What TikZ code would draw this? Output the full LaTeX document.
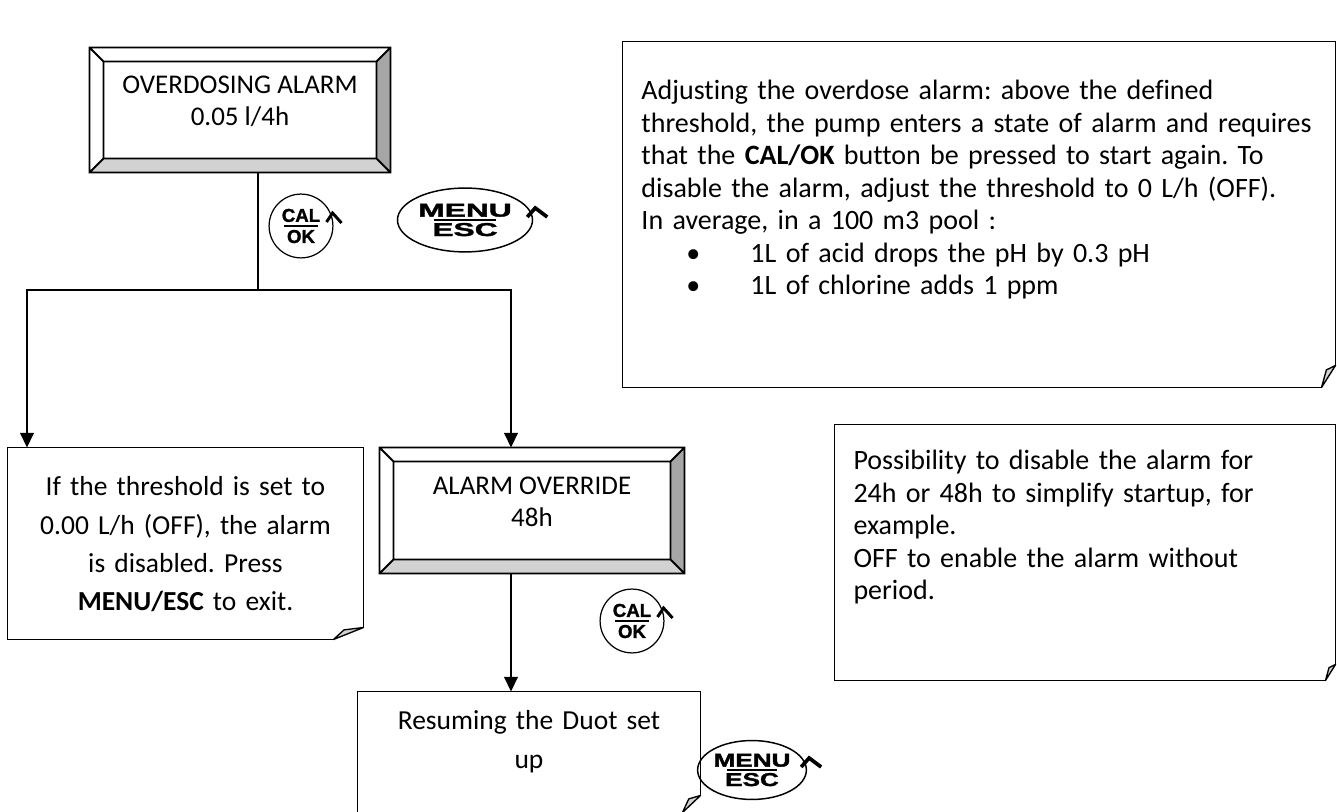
\documentclass[tikz,border=0pt]{standalone}
\usepackage{fontspec}
\setmainfont{Carlito}[Ligatures=NoCommon]
\newfontfamily\keyfont{Liberation Sans}[BoldFeatures={FakeBold=1.5}]
\usepackage{graphicx}
\usetikzlibrary{arrows.meta,calc,fit,shapes.geometric}
\frenchspacing

\tikzset{
  lcdbox/.style={inner sep=0pt, align=center, font=\fontsize{11}{13}\selectfont},
  notebox/.style={inner sep=0pt},
  note/.style={inner sep=0pt, align=left, font=\fontsize{11.4}{13.2}\selectfont},
  notec/.style={inner sep=0pt, align=center, font=\fontsize{11.2}{15.5}\selectfont},
  textline/.style={line width=0.55pt},
  flap/.style={line width=0.55pt, fill=gray!35, line join=round},
  bevelline/.style={line width=0.8pt},
  flow/.style={line width=0.8pt},
  flowarrow/.style={flow, -{Triangle[length=6pt,width=5.6pt]}},
  calkey/.style={circle, draw, line width=0.5pt, minimum size=26pt, inner sep=0pt,
    align=center, font=\keyfont\bfseries\fontsize{7.6}{8.6}\selectfont,
    path picture={\draw[line width=0.9pt]
      ([xshift=-7pt]path picture bounding box.center) --
      ([xshift=7pt]path picture bounding box.center);}},
  menukey/.style={ellipse, draw, line width=0.6pt, minimum width=55pt, minimum height=26pt,
    inner sep=0pt, align=center, font=\keyfont\bfseries\fontsize{7.6}{7.9}\selectfont,
    path picture={\draw[line width=1.2pt]
      ([xshift=-12.6pt]path picture bounding box.center) --
      ([xshift=12.6pt]path picture bounding box.center);}},
  smallmenukey/.style={menukey, minimum width=44pt, minimum height=24pt,
    path picture={\draw[line width=1.1pt]
      ([xshift=-10pt]path picture bounding box.center) --
      ([xshift=10pt]path picture bounding box.center);}},
  chev/.style={line width=1.2pt},
}

% display frame with bevelled border
\newcommand\bevelbox[2]{%
  \coordinate (#1-nw) at ($(#1.north west)+(#2,#2)$);
  \coordinate (#1-ne) at ($(#1.north east)+(-#2,#2)$);
  \coordinate (#1-se) at ($(#1.south east)+(-#2,-#2)$);
  \coordinate (#1-sw) at ($(#1.south west)+(#2,-#2)$);
  \fill[gray!35] (#1.south west) -- (#1.south east) -- (#1-se) -- (#1-sw) -- cycle;
  \fill[gray!70] (#1.south east) -- (#1.north east) -- (#1-ne) -- (#1-se) -- cycle;
  \draw[bevelline] (#1.south west) rectangle (#1.north east)
    (#1-sw) rectangle (#1-ne)
    (#1.north west) -- (#1-nw) (#1.north east) -- (#1-ne)
    (#1.south east) -- (#1-se) (#1.south west) -- (#1-sw);
}
% note frame with folded corner
\newcommand\foldframe[3]{%
  \draw[textline] ($(#1.south east)+(0,-#3)$) -- (#1.north east) -- (#1.north west)
    -- (#1.south west) -- ($(#1.south east)+(-#2,0)$);
  \draw[flap] ($(#1.south east)+(-#2,0)$) -- ($(#1.south east)+(-0.65*#2,-0.8*#3)$)
    -- ($(#1.south east)+(0,-#3)$) -- cycle;
}
\newcommand\calchev[1]{%
  \draw[chev] ($(#1.east)+(-7,-4)$) -- ($(#1.east)+(-1,-13)$) -- ($(#1.east)+(8,-3)$);}
\newcommand\menuchev[1]{%
  \draw[chev, line width=1.5pt] ($(#1.east)+(-6,-3)$) -- ($(#1.east)+(2,-12)$) -- ($(#1.east)+(14,-3)$);}

\begin{document}
\begin{tikzpicture}[x=0.4073pt,y=-0.4073pt]
\useasboundingbox (0,0) rectangle (1337,812);

% displays
\node (ovd) [lcdbox, fit={(90,48) (390,172)}] {OVERDOSING ALARM\\0.05 l/4h};
\bevelbox{ovd}{14}
\node (ovr) [lcdbox, fit={(380,448) (684,573)}] {ALARM OVERRIDE\\48h};
\bevelbox{ovr}{14}

% notes
\node (adj) [notebox, fit={(623,42) (1335,387)}] {};
\foldframe{adj}{14}{22}
\node (adjtext) [note, text width=290pt, anchor=base west] at (641,100)
  {Adjusting the overdose alarm: above the defined\\
   threshold, the pump enters a state of alarm and requires\\
   that the \textbf{CAL/OK} button be pressed to start again. To\\
   disable the alarm, adjust the threshold to 0 L/h (OFF).\\
   In average, in a 100 m3 pool :\\
   \hspace*{18.3pt}\makebox[26.1pt][l]{\textbullet}1L of acid drops the pH by 0.3 pH\\
   \hspace*{18.3pt}\makebox[26.1pt][l]{\textbullet}1L of chlorine adds 1 ppm};

\node (dis) [notebox, fit={(835,425) (1335,680)}] {};
\foldframe{dis}{10}{16}
\node (distext) [note, text width=220pt, anchor=base west] at (853,470)
  {Possibility to disable the alarm for\\
   24h or 48h to simplify startup, for\\
   example.\\
   OFF to enable the alarm without\\
   period.};

\node (thr) [notebox, fit={(8,448) (363,639)}] {};
\foldframe{thr}{30}{12}
\node (thrtext) [notec, text width=150pt, anchor=base] at (185.5,496)
  {If the threshold is set to\\0.00 L/h (OFF), the alarm\\is disabled. Press\\
   \textbf{MENU/ESC} to exit.};

\node (res) [notebox, fit={(358,692) (700,812)}] {};
\foldframe{res}{18}{17}
\node (restext) [notec, text width=130pt, anchor=base] at (529,730)
  {Resuming the Duot set\\up};

% keys
\node (calok1) [calkey] at (301,226) {CAL\\OK};
\calchev{calok1}
\node (menu1) [menukey] at (465,220) {\scalebox{1.7}[1]{MENU}\\\scalebox{1.7}[1]{ESC}};
\menuchev{menu1}
\node (calok2) [calkey] at (632,621) {CAL\\OK};
\calchev{calok2}
\node (menu2) [smallmenukey] at (752,770) {\scalebox{1.4}[1]{MENU}\\\scalebox{1.4}[1]{ESC}};
\menuchev{menu2}

% connectors
\coordinate (split) at (258,290);
\coordinate (lefttap) at (27,290);
\coordinate (righttap) at (511,290);
\draw[flow] (ovd.south -| split) -- (split);
\draw[flowarrow] (split) -- (lefttap) -- (lefttap |- thr.north);
\draw[flowarrow] (split) -- (righttap) -- (righttap |- ovr.north);
\draw[flowarrow] (ovr.south -| righttap) -- (righttap |- res.north);
\end{tikzpicture}
\end{document}
